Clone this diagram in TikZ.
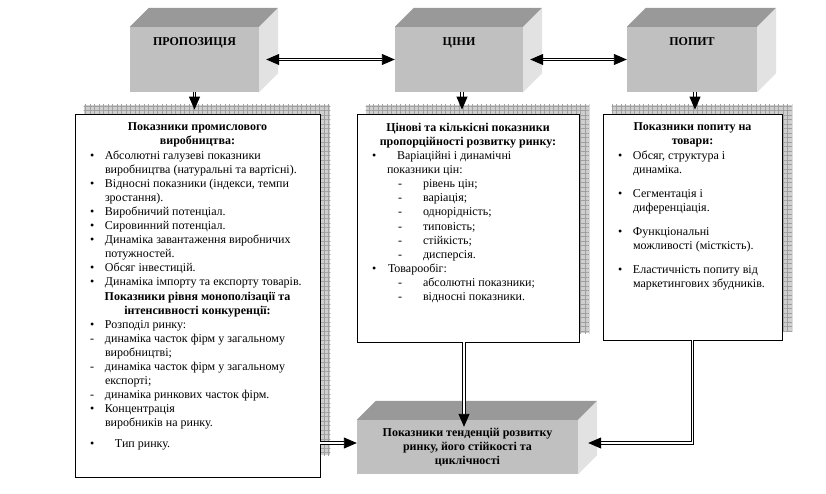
\documentclass[tikz,border=0pt]{standalone}
\usepackage{fontspec}
\setmainfont{Liberation Serif}
\usetikzlibrary{arrows.meta, positioning, calc, backgrounds, patterns.meta}
\definecolor{bkfront}{HTML}{C0C0C0}
\definecolor{bktop}{HTML}{999999}
\definecolor{bkside}{HTML}{E2E2E2}
\definecolor{shfill}{HTML}{CFCFCF}
\definecolor{shline}{HTML}{A0A0A0}
\newcommand{\itm}[3]{\par\hangindent=#1\hangafter=1\noindent\makebox[#1][l]{#2}#3}
\newcommand{\dsh}[1]{\par\noindent\hspace*{26pt}\makebox[25pt][l]{-}#1}

\begin{document}
\begin{tikzpicture}[x=1pt, y=-1pt, >={Triangle[length=13pt, width=11pt]},
  every node/.style={font=\fontsize{12}{14.1}\selectfont},
  blockface/.style={rectangle, fill=bkfront, inner sep=0pt},
  blocklabel/.style={anchor=base, font=\fontsize{12}{14}\selectfont\bfseries},
  infobox/.style={rectangle, draw=black, fill=white, line width=0.8pt, inner xsep=15pt, inner ysep=0pt},
  shadowbox/.style={preaction={fill=shfill}, pattern={Hatch[angle=0, distance=4.5pt, line width=0.5pt]}, pattern color=shline},
  dbl/.style={draw=black, double=white, double distance=1.4pt, line width=0.9pt},
]
\useasboundingbox (0,0) rectangle (826,493);

% top blocks
\node[blockface, minimum width=129pt, minimum height=65pt] (prop) at (194.5, 59.5) {};
\node[blockface, minimum width=128pt, minimum height=65pt] (price) at (459, 59.5) {};
\node[blockface, minimum width=130pt, minimum height=65pt] (dem) at (692, 59.5) {};
\node[blocklabel] (propt) at ([yshift=-19pt]prop.north) {ПРОПОЗИЦІЯ};
\node[blocklabel] (pricet) at ([yshift=-19pt]price.north) {ЦІНИ};
\node[blocklabel] (demt) at ([yshift=-19pt]dem.north) {ПОПИТ};

% bottom block
\node[blockface, minimum width=221pt, minimum height=54pt, align=center, font=\fontsize{12}{14}\selectfont\bfseries] (trend) at (467.5, 447) {Показники тенденцій розвитку\\ринку, його стійкості та\\циклічності};

% 3d faces
\foreach \b in {prop, price, dem, trend} {
  \fill[bktop] (\b.north west) -- ++(19,-19) -- ([shift={(19,-19)}]\b.north east) -- (\b.north east) -- cycle;
  \fill[bkside] (\b.north east) -- ++(19,-19) -- ([shift={(19,-19)}]\b.south east) -- (\b.south east) -- cycle;
}

% info boxes
\node[infobox] (prodbox) at (197.5, 295.5) {\parbox[c][363pt][t]{215pt}{\vspace*{9pt}%
{\centering\bfseries Показники промислового\\ виробництва:\par}
\itm{15pt}{\textbullet}{Абсолютні галузеві показники\\виробництва (натуральні та вартісні).}
\itm{15pt}{\textbullet}{Відносні показники (індекси, темпи\\зростання).}
\itm{15pt}{\textbullet}{Виробничий потенціал.}
\itm{15pt}{\textbullet}{Сировинний потенціал.}
\itm{15pt}{\textbullet}{Динаміка завантаження виробничих\\потужностей.}
\itm{15pt}{\textbullet}{Обсяг інвестицій.}
\itm{15pt}{\textbullet}{Динаміка імпорту та експорту товарів.}\par
{\centering\bfseries Показники рівня монополізації та\\ інтенсивності конкуренції:\par}
\itm{15pt}{\textbullet}{Розподіл ринку:}
\itm{15pt}{-}{динаміка часток фірм у загальному\\виробництві;}
\itm{15pt}{-}{динаміка часток фірм у загальному\\експорті;}
\itm{15pt}{-}{динаміка ринкових часток фірм.}
\itm{15pt}{\textbullet}{Концентрація\\виробників на ринку.}\par\vspace{6pt}
\itm{15pt}{\textbullet}{\hspace*{10pt}Тип ринку.}}};

\node[infobox] (pricebox) at (468, 228) {\parbox[c][228pt][t]{192pt}{\vspace*{9pt}%
{\centering\bfseries Цінові та кількісні показники\\ пропорційності розвитку ринку:\par}
\par\hangindent=15pt\hangafter=1\noindent\makebox[25pt][l]{\textbullet}Варіаційні і динамічні\\показники цін:
\dsh{рівень цін;}
\dsh{варіація;}
\dsh{однорідність;}
\dsh{типовість;}
\dsh{стійкість;}
\dsh{дисперсія.}
\itm{16pt}{\textbullet}{Товарообіг:}
\dsh{абсолютні показники;}
\dsh{відносні показники.}}};

\node[infobox] (dembox) at (692.5, 227) {\parbox[c][226pt][t]{149pt}{\vspace*{9pt}%
{\centering\bfseries Показники попиту на\\ товари:\par}
\itm{15pt}{\textbullet}{Обсяг, структура і\\динаміка.}\par\vspace{10pt}
\itm{15pt}{\textbullet}{Сегментація і\\диференціація.}\par\vspace{10pt}
\itm{15pt}{\textbullet}{Функціональні\\можливості (місткість).}\par\vspace{10pt}
\itm{15pt}{\textbullet}{Еластичність попиту від\\маркетингових збудників.}}};

% grid shadows
\begin{scope}[on background layer]
\foreach \b/\s in {prodbox/-22, pricebox/-9, dembox/-9}
  \fill[shadowbox] ([shift={(9,-9)}]\b.north west) rectangle ([shift={(10,\s)}]\b.south east);
\end{scope}

% connectors
\draw[dbl, <->] ([xshift=7pt]prop.east) -- (price.west);
\draw[dbl, <->] ([xshift=7pt]price.east) -- (dem.west);
\draw[dbl, ->, shorten >=4pt] (prop.south) -- (prop.south |- prodbox.north);
\draw[dbl, ->, shorten >=4pt] ([xshift=3pt]price.south) -- ([xshift=3pt]price.south |- pricebox.north);
\draw[dbl, ->, shorten >=4pt] ([xshift=3pt]dem.south) -- ([xshift=3pt]dem.south |- dembox.north);
\draw[dbl, ->, shorten >=-7pt] ([xshift=-4pt]pricebox.south) -- ([xshift=-4pt]pricebox.south |- trend.north);
\draw[dbl, ->] (dembox.south) |- ([shift={(10,-4)}]trend.east);
\draw[dbl, ->] ($(prodbox.east |- trend.west)+(0,-4)$) -- ([yshift=4pt]trend.west);
\end{tikzpicture}
\end{document}
